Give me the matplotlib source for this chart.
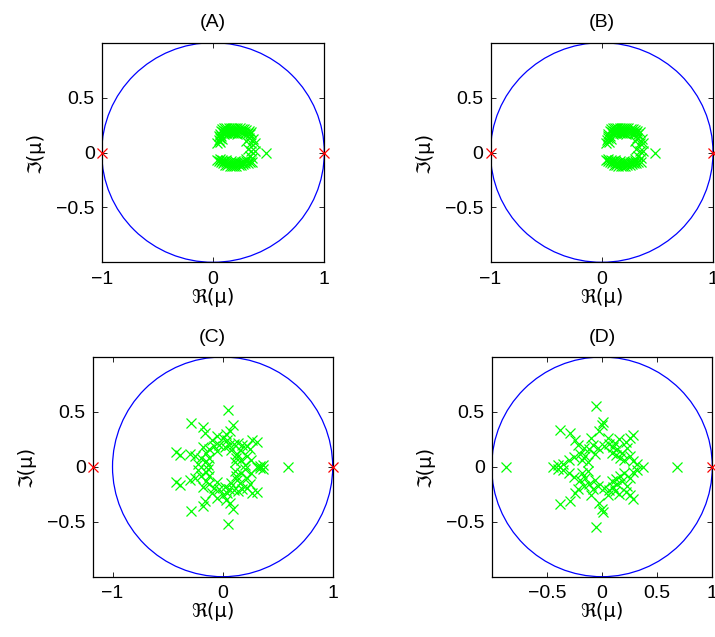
import matplotlib
matplotlib.use("Agg")
import matplotlib.pyplot as plt
from matplotlib.patches import Circle

plt.rcParams['font.family'] = ['Liberation Sans', 'DejaVu Sans']
plt.rcParams['axes.unicode_minus'] = True

# ---------------- data ----------------
titles = ["(A)", "(B)", "(C)", "(D)"]
xlabel = "\u211c(\u03bc)"
ylabel = "\u2111(\u03bc)"

# Panel A / B: dense C-shaped cluster of multipliers
ab_re = [0.07, 0.08, 0.10, 0.12, 0.14, 0.16, 0.18, 0.20, 0.22, 0.24, 0.26, 0.28, 0.30, 0.32, 0.34,
         0.09, 0.11, 0.13, 0.15, 0.17, 0.19, 0.21, 0.23, 0.25, 0.27, 0.29, 0.31, 0.33,
         0.10, 0.12, 0.14, 0.16, 0.18, 0.20, 0.22,
         0.06, 0.055, 0.06, 0.075, 0.05, 0.035, 0.065, 0.08,
         0.04, 0.06, 0.055, 0.07, 0.08, 0.09, 0.10, 0.11, 0.12, 0.13, 0.14, 0.15, 0.16, 0.17, 0.18,
         0.19, 0.20, 0.21, 0.22, 0.23, 0.24, 0.25, 0.26, 0.27, 0.28, 0.29, 0.30, 0.31, 0.33, 0.35,
         0.12, 0.16, 0.20,
         0.30, 0.345, 0.375, 0.31, 0.345, 0.375, 0.33, 0.30, 0.35, 0.476, 0.32, 0.36]
ab_im = [0.20, 0.215, 0.22, 0.225, 0.225, 0.225, 0.225, 0.225, 0.22, 0.22, 0.215, 0.21, 0.205, 0.20, 0.19,
         0.19, 0.195, 0.20, 0.20, 0.20, 0.20, 0.20, 0.195, 0.19, 0.185, 0.18, 0.175, 0.165,
         0.17, 0.175, 0.18, 0.18, 0.18, 0.175, 0.17,
         0.17, 0.15, 0.13, 0.15, 0.11, 0.09, 0.10, 0.12,
         -0.065, -0.06, -0.08, -0.09, -0.07, -0.10, -0.08, -0.11, -0.09, -0.115, -0.095, -0.12, -0.10, -0.12, -0.10,
         -0.12, -0.10, -0.12, -0.10, -0.115, -0.095, -0.11, -0.09, -0.105, -0.085, -0.10, -0.08, -0.095, -0.085, -0.09,
         -0.07, -0.075, -0.075,
         0.106, 0.09, 0.09, 0.036, 0.015, 0.015, -0.03, -0.06, -0.05, 0.0, 0.13, 0.12]

c_re = [0.045, 0.09, 0.065, 0.03, 0.00, -0.05, -0.176, -0.16, -0.288, -0.42, -0.39, -0.30, -0.25, -0.20,
        -0.15, -0.13, -0.22, 0.31, 0.27, 0.22, 0.18, 0.14, 0.10, 0.06, 0.02, -0.03, -0.08, -0.12, -0.15,
        -0.10, 0.16, 0.13, 0.12, 0.17, 0.22, 0.26, 0.37, 0.34, -0.05, 0.08, 0.20, 0.11, -0.18, 0.04,
        -0.12, 0.25,
        0.045, 0.09, 0.065, 0.03, 0.00, -0.05, -0.176, -0.16, -0.288, -0.42, -0.39, -0.30, -0.25, -0.20,
        -0.15, -0.13, -0.22, 0.31, 0.27, 0.22, 0.18, 0.14, 0.10, 0.06, 0.02, -0.03, -0.08, -0.12, -0.15,
        -0.10, 0.16, 0.13, 0.12, 0.17, 0.22, 0.26, 0.37, 0.34, -0.05, 0.08, 0.20, 0.11, -0.18, 0.04,
        -0.12, 0.25,
        0.59, 0.31]
c_im = [0.52, 0.38, 0.33, 0.30, 0.26, 0.28, 0.36, 0.31, 0.40, 0.136, 0.106, 0.12, 0.10, 0.08,
        0.05, 0.02, 0.03, 0.226, 0.24, 0.19, 0.20, 0.22, 0.21, 0.20, 0.18, 0.20, 0.19, 0.16, 0.13,
        0.24, 0.15, 0.12, 0.08, 0.06, 0.10, 0.06, 0.02, 0.01, 0.14, 0.15, 0.02, 0.04, 0.18, 0.24,
        0.08, 0.16,
        -0.52, -0.38, -0.33, -0.30, -0.26, -0.28, -0.36, -0.31, -0.40, -0.136, -0.165, -0.12, -0.10, -0.08,
        -0.05, -0.02, -0.03, -0.226, -0.24, -0.19, -0.20, -0.22, -0.21, -0.20, -0.18, -0.20, -0.19, -0.16, -0.13,
        -0.24, -0.15, -0.12, -0.08, -0.06, -0.10, -0.06, -0.02, -0.01, -0.14, -0.15, -0.02, -0.04, -0.18, -0.24,
        -0.08, -0.16,
        0.0, 0.0]

d_re = [-0.054, -0.38, -0.29, 0.012, 0.0, -0.03, 0.28, 0.25, 0.22, -0.245, -0.22, -0.40, -0.35, -0.30,
        -0.25, -0.20, -0.18, -0.15, -0.12, -0.08, -0.04, 0.02, 0.06, 0.10, 0.14, 0.18, 0.16, 0.20, 0.25,
        0.28, 0.32, 0.12, -0.10, 0.05, 0.15, -0.16, -0.13, 0.13, 0.09, -0.06, 0.23,
        -0.054, -0.38, -0.29, 0.012, 0.0, -0.03, 0.28, 0.25, 0.22, -0.245, -0.22, -0.40, -0.35, -0.30,
        -0.25, -0.20, -0.18, -0.15, -0.12, -0.08, -0.04, 0.02, 0.06, 0.10, 0.14, 0.18, 0.16, 0.20, 0.25,
        0.28, 0.32, 0.12, -0.10, 0.05, 0.15, -0.16, -0.13, 0.13, 0.09, -0.06, 0.23,
        -0.87, 0.677, 0.37, -0.44]
d_im = [0.55, 0.34, 0.31, 0.41, 0.38, 0.33, 0.29, 0.26, 0.23, 0.24, 0.20, 0.02, 0.03, 0.06,
        0.09, 0.12, 0.06, 0.10, 0.16, 0.20, 0.17, 0.19, 0.21, 0.18, 0.16, 0.13, 0.08, 0.06, 0.10,
        0.05, 0.03, 0.22, 0.26, 0.26, 0.25, 0.17, 0.04, 0.11, 0.13, 0.12, 0.17,
        -0.55, -0.34, -0.31, -0.41, -0.38, -0.33, -0.29, -0.26, -0.23, -0.24, -0.20, -0.02, -0.03, -0.06,
        -0.09, -0.12, -0.06, -0.10, -0.16, -0.20, -0.17, -0.19, -0.21, -0.18, -0.16, -0.13, -0.08, -0.06, -0.10,
        -0.05, -0.03, -0.22, -0.26, -0.26, -0.25, -0.17, -0.04, -0.11, -0.13, -0.12, -0.17,
        0.0, 0.0, 0.0, 0.0]

# red markers (critical multipliers)
red_re = [[-1.0, 1.0], [-1.0, 1.0], [-1.18, 1.0], [1.0]]
red_im = [[0.0, 0.0], [0.0, 0.0], [0.0, 0.0], [0.0]]

xlims = [(-1.0, 1.0), (-1.0, 1.0), (-1.18, 1.0), (-1.0, 1.0)]
ylims = [(-1.0, 1.0)] * 4
xticks = [[-1, 0, 1], [-1, 0, 1], [-1, 0, 1], [-0.5, 0, 0.5, 1]]
xticklabels = [["\u22121", "0", "1"], ["\u22121", "0", "1"], ["\u22121", "0", "1"],
               ["\u22120.5", "0", "0.5", "1"]]
yticks = [-0.5, 0, 0.5]
yticklabels = ["\u22120.5", "0", "0.5"]

green_re = [ab_re, ab_re, c_re, d_re]
green_im = [ab_im, ab_im, c_im, d_im]

# ---------------- layout ----------------
W, H = 715, 637
boxes_px = [(101.7, 42.7, 324.3, 262.3),
            (490.5, 42.7, 713.0, 262.3),
            (92.7, 357.0, 332.7, 576.7),
            (491.7, 357.0, 712.3, 576.7)]

fig = plt.figure(figsize=(W / 100, H / 100), dpi=100)
fig.patch.set_facecolor('white')

for i in range(4):
    l, t, r, b = boxes_px[i]
    ax = fig.add_axes([l / W, 1 - b / H, (r - l) / W, (b - t) / H])
    ax.add_patch(Circle((0, 0), 1.0, fill=False, ec=(0, 0, 1), lw=0.9, zorder=2))
    ax.plot(green_re[i], green_im[i], linestyle='none', marker='x', color=(0, 1, 0),
            ms=7, mew=0.9, zorder=3)
    ax.plot(red_re[i], red_im[i], linestyle='none', marker='x', color=(1, 0, 0),
            ms=7, mew=0.9, zorder=4, clip_on=False)
    ax.set_xlim(*xlims[i])
    ax.set_ylim(*ylims[i])
    ax.set_xticks(xticks[i])
    ax.set_xticklabels(xticklabels[i])
    ax.set_yticks(yticks)
    ax.set_yticklabels(yticklabels)
    ax.tick_params(direction='in', length=3.5, width=0.6, top=True, right=True,
                   labelsize=14)
    ax.tick_params(axis='y', pad=5)
    ax.tick_params(axis='x', pad=6)
    for s in ax.spines.values():
        s.set_linewidth(0.9)
    ax.set_title(titles[i], fontsize=14, pad=11)
    ax.set_xlabel(xlabel, fontsize=14, family=['DejaVu Sans'], labelpad=0)
    ax.set_ylabel(ylabel, fontsize=14, family=['DejaVu Sans'], labelpad=8)

fig.savefig("out.png", dpi=100, facecolor='white')
